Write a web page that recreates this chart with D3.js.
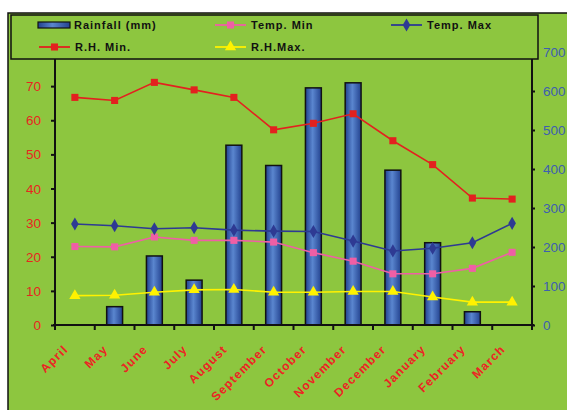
<!DOCTYPE html>
<html><head><meta charset="utf-8">
<script src="https://cdn.jsdelivr.net/npm/d3@7"></script>
<style>
html,body{margin:0;padding:0;background:#fff;}
svg{display:block;}
</style></head>
<body>
<svg id="chart" width="567" height="410"></svg>
<script>
const months = ["April","May","June","July","August","September","October","November","December","January","February","March"];
const rainfall = [0,47,177,115,461,409,608,621,397,211,34,0];
const tempMin = [23.0,22.9,25.8,24.8,24.8,24.3,21.2,18.7,15.0,15.0,16.6,21.3];
const tempMax = [29.6,29.1,28.2,28.5,27.8,27.5,27.4,24.6,21.7,22.5,24.1,29.8];
const rhMin = [66.7,65.8,71.1,68.9,66.7,57.2,59.1,61.9,54.0,47.0,37.2,36.9];
const rhMax = [8.6,8.7,9.6,10.3,10.4,9.6,9.6,9.8,9.8,8.2,6.7,6.7];
const leftTicks = [0,10,20,30,40,50,60,70];
const rightTicks = [0,100,200,300,400,500,600,700];

const svg = d3.select("#chart");
const bg = "#8dc63f";
const sans = "'Liberation Sans',Arial,sans-serif";

// chart background + frame
svg.append("rect").attr("x",8).attr("y",13).attr("width",570).attr("height",410)
  .attr("fill",bg).attr("stroke","#111").attr("stroke-width",1.5);

const x = d3.scaleBand().domain(months).range([55,532]).padding(0);
const yL = d3.scaleLinear().domain([0,80]).range([325,52]);
const yR = d3.scaleLinear().domain([0,700]).range([325,52]);
const cx = m => x(m) + x.bandwidth()/2;

// gradient for bars
const defs = svg.append("defs");
const g = defs.append("linearGradient").attr("id","barGrad").attr("x1","0").attr("x2","1").attr("y1","0").attr("y2","0");
g.append("stop").attr("offset","0%").attr("stop-color","#22418f");
g.append("stop").attr("offset","45%").attr("stop-color","#5a86cf");
g.append("stop").attr("offset","100%").attr("stop-color","#23428f");

// bars
const bw = x.bandwidth()*0.4;
svg.append("g").selectAll("rect").data(months.map((m,i)=>({m,v:rainfall[i]})).filter(d=>d.v>0))
  .join("rect")
  .attr("x",d=>cx(d.m)-bw/2).attr("width",bw)
  .attr("y",d=>yR(d.v)).attr("height",d=>yR(0)-yR(d.v))
  .attr("fill","url(#barGrad)").attr("stroke","#111").attr("stroke-width",1.5);

// axes
const axL = svg.append("g").attr("transform","translate(55,0)")
  .call(d3.axisLeft(yL).tickValues(leftTicks).tickSize(4).tickPadding(10).tickFormat(d3.format("d")));
axL.select(".domain").attr("d","M0,"+yL(80)+"V"+yL(0)).attr("stroke","#111").attr("stroke-width",2);
axL.selectAll(".tick line").attr("stroke","#111").attr("stroke-width",2);
axL.selectAll(".tick text").attr("fill","#e8251f").attr("font-family",sans).attr("font-size",13.5).attr("dy","0.34em");

const axR = svg.append("g").attr("transform","translate(532,0)")
  .call(d3.axisRight(yR).tickValues(rightTicks).tickSize(3).tickPadding(8).tickFormat(d3.format("d")));
axR.select(".domain").attr("d","M0,"+yR(700)+"V"+yR(0)).attr("stroke","#111").attr("stroke-width",2);
axR.selectAll(".tick line").attr("stroke","#111").attr("stroke-width",2);
axR.selectAll(".tick text").attr("fill","#3d5fb0").attr("font-family",sans).attr("font-size",13.5).attr("dy","0.34em");

// bottom axis
const axB = svg.append("g").attr("transform","translate(0,325)");
axB.append("line").attr("x1",53).attr("x2",534).attr("stroke","#111").attr("stroke-width",2);
const bounds = months.map(m=>x(m)).concat([x.range()[1]]);
axB.selectAll("line.tk").data(bounds).join("line").attr("class","tk")
  .attr("x1",d=>d).attr("x2",d=>d).attr("y1",0).attr("y2",5).attr("stroke","#111").attr("stroke-width",2);
axB.selectAll("text").data(months).join("text")
  .attr("transform",d=>`translate(${cx(d)-6},${25}) rotate(-45)`)
  .attr("text-anchor","end")
  .attr("fill","#ec2424").attr("font-family",sans)
  .attr("font-weight","bold").attr("font-size",12).attr("letter-spacing",1.2)
  .text(d=>d);

// lines
const series = [
  {name:"Temp. Min", vals:tempMin, color:"#ef5fa5", marker:"square"},
  {name:"Temp. Max", vals:tempMax, color:"#2e3a93", marker:"diamond"},
  {name:"R.H. Min.", vals:rhMin, color:"#e3211f", marker:"square"},
  {name:"R.H.Max.", vals:rhMax, color:"#fff200", marker:"triangle"}
];
const symType = {square:d3.symbolSquare, diamond:d3.symbolDiamond, triangle:d3.symbolTriangle};
const symSize = {square:50, diamond:50, triangle:55};
const line = d3.line().x(d=>cx(d.m)).y(d=>yL(d.v));
series.forEach(s=>{
  const pts = months.map((m,i)=>({m,v:s.vals[i]}));
  svg.append("path").datum(pts).attr("d",line).attr("fill","none").attr("stroke",s.color).attr("stroke-width",1.6);
  svg.append("g").selectAll("path").data(pts).join("path")
    .attr("d",d3.symbol().type(symType[s.marker]).size(symSize[s.marker]))
    .attr("transform",d=>`translate(${cx(d.m)},${yL(d.v)})`)
    .attr("fill",s.color);
});

// legend
const lg = svg.append("g");
lg.append("rect").attr("x",11).attr("y",15).attr("width",527).attr("height",44)
  .attr("fill",bg).attr("stroke","#111").attr("stroke-width",1.5);
const legItems = [
  {label:"Rainfall (mm)", type:"bar", x:38, y:25},
  {label:"Temp. Min", s:series[0], x:215, y:25},
  {label:"Temp. Max", s:series[1], x:391, y:25},
  {label:"R.H. Min.", s:series[2], x:39, y:47},
  {label:"R.H.Max.", s:series[3], x:215, y:47}
];
legItems.forEach(it=>{
  const gi = lg.append("g");
  if(it.type==="bar"){
    gi.append("rect").attr("x",it.x).attr("y",it.y-3).attr("width",32).attr("height",6)
      .attr("fill","url(#barGrad)").attr("stroke","#111").attr("stroke-width",1.2);
  } else {
    gi.append("line").attr("x1",it.x).attr("x2",it.x+31).attr("y1",it.y).attr("y2",it.y)
      .attr("stroke",it.s.color).attr("stroke-width",1.8);
    gi.append("path").attr("d",d3.symbol().type(symType[it.s.marker]).size(symSize[it.s.marker])())
      .attr("transform",`translate(${it.x+15.5},${it.y})`).attr("fill",it.s.color);
  }
  gi.append("text").attr("x",it.x+36).attr("y",it.y).attr("dy","0.36em")
    .attr("font-family",sans).attr("font-weight","bold")
    .attr("font-size",11).attr("letter-spacing",1).attr("fill","#111").text(it.label);
});
</script>
</body></html>
